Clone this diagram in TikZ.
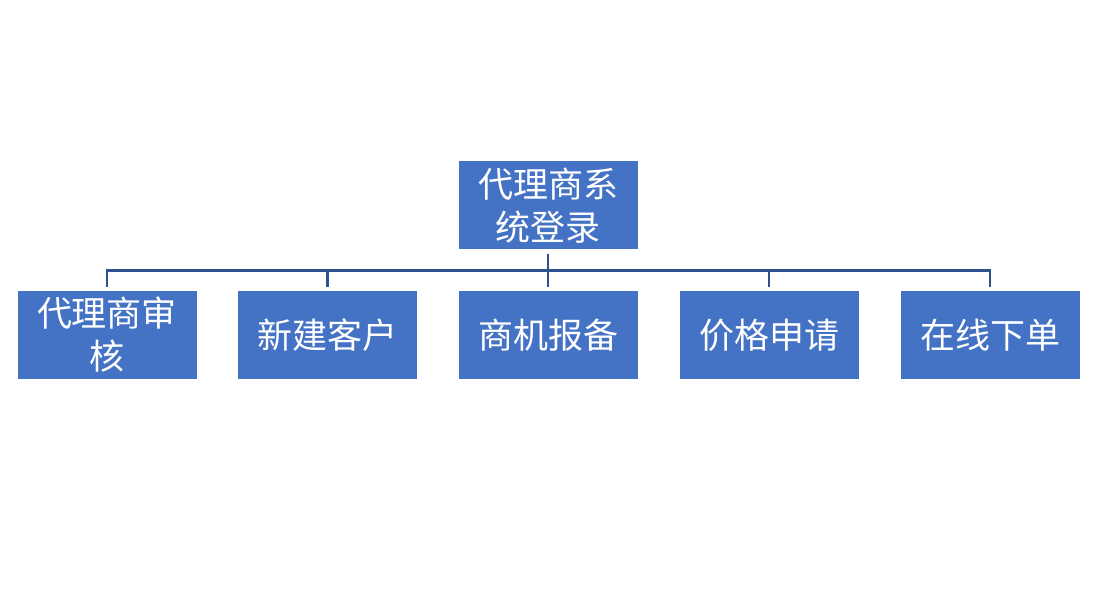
\documentclass[tikz,border=0pt]{standalone}
\usepackage{fontspec}
\newfontfamily\cjk{Noto Sans CJK SC}
\definecolor{boxblue}{HTML}{4472C4}
\definecolor{lineblue}{HTML}{2F528F}
\tikzset{
	box/.style={fill=boxblue, minimum width=179pt, minimum height=88pt, inner sep=0pt, align=center, text=white, font=\cjk\fontsize{35}{43}\selectfont},
	conn/.style={lineblue, line width=2.6pt, shorten <=4pt, shorten >=4pt}
}
\begin{document}
\begin{tikzpicture}[x=1pt,y=-1pt]
		\useasboundingbox (0,0) rectangle (1104,593);
		\node [box] (login) at (548,205.5) {代理商系\\统登录};
		\node [box] (audit) at (107,335) {代理商审\\核};
		\node [box] (customer) at (327.5,335) {新建客户};
		\node [box] (chance) at (548,335) {商机报备};
		\node [box] (price) at (769,335) {价格申请};
		\node [box] (order) at (990,335) {在线下单};
		\foreach \child in {audit,customer,chance,price,order}
			\draw [conn] (login.south) -- ++(0,21) -| (\child.north);
		\end{tikzpicture}
\end{document}
